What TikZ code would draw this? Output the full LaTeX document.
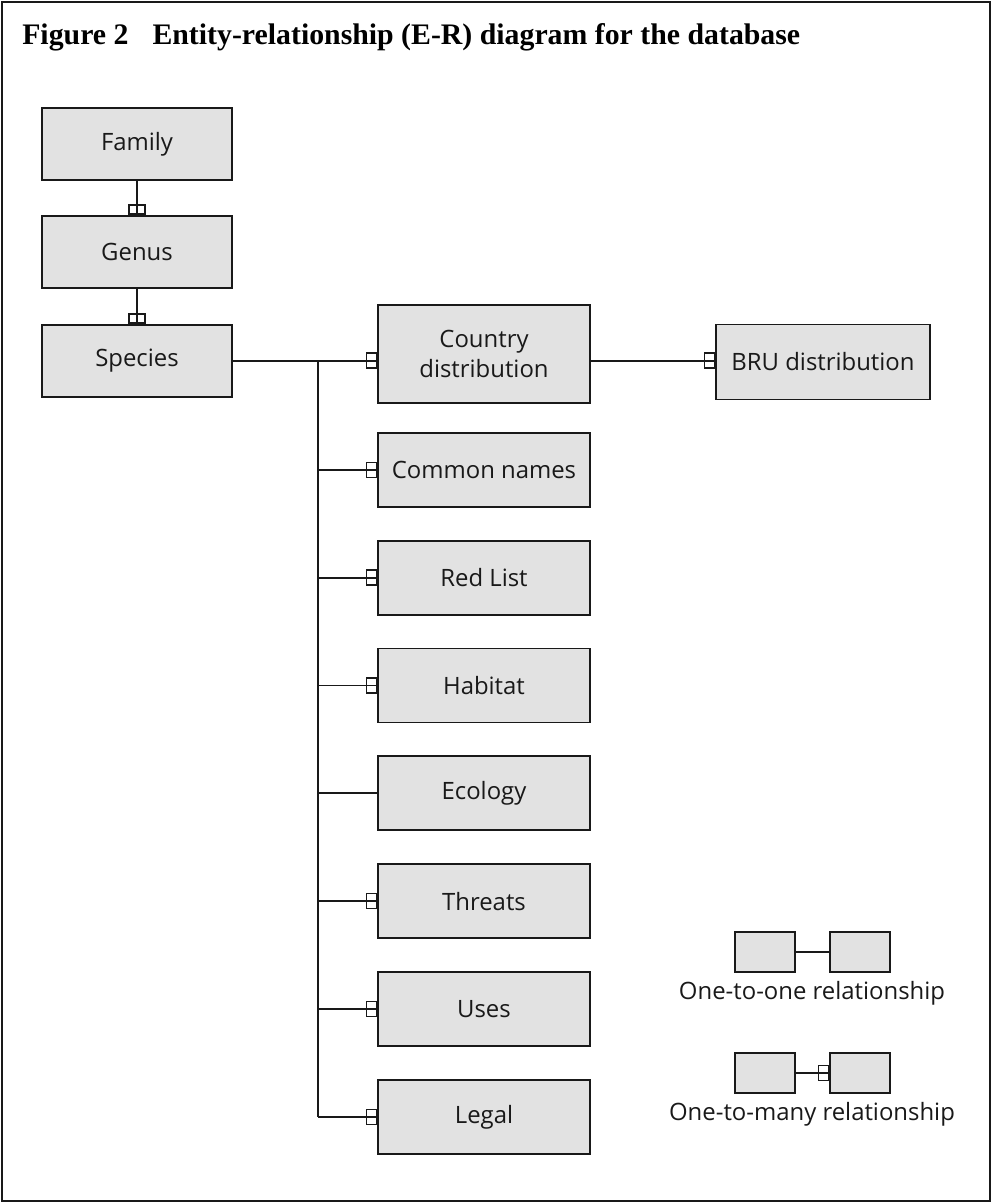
\documentclass[tikz,border=0pt]{standalone}
\usepackage{fontspec}
\setmainfont{Liberation Serif}
\setsansfont{Open Sans}
\usetikzlibrary{positioning}
\definecolor{cBox}{RGB}{226,226,226}
\definecolor{cEdge}{RGB}{25,25,25}
\tikzset{
  entity/.style={
    rectangle, draw=cEdge, line width=1.3pt, fill=cBox,
    align=center, text=cEdge, font=\sffamily\fontsize{17}{21}\selectfont,
    minimum width=47.5mm, minimum height=18mm, inner sep=1mm,
  },
  entityR/.style={entity, minimum width=53mm, minimum height=18.5mm},
  legbox/.style={entity, minimum width=15mm, minimum height=10mm},
  legtxt/.style={font=\sffamily\fontsize{17}{21}\selectfont, text=cEdge, inner sep=0pt},
  rel/.style={line width=1.3pt, draw=cEdge},
  manyH/.style={rectangle, draw=cEdge, line width=1.1pt, inner sep=0pt,
    minimum width=2.5mm, minimum height=3.75mm, anchor=east},
  manyV/.style={rectangle, draw=cEdge, line width=1.1pt, inner sep=0pt,
    minimum width=4mm, minimum height=2.25mm, anchor=south},
}

\begin{document}
\begin{tikzpicture}[x=0.25mm, y=-0.25mm]
\useasboundingbox (0,0) rectangle (992,1204);
\draw[line width=1pt, draw=cEdge] (2,2) rectangle (990,1201);

% ===== title =====
\node[anchor=base west, inner sep=0pt, font=\bfseries\fontsize{21.2}{24}\selectfont] (title)
  at (22,45) {Figure 2\hspace{6mm}Entity-relationship (E-R) diagram for the database};

% ===== taxonomy column =====
\node[entity] (family) at (137,144) {Family};
\node[entity, below=8.5mm of family] (genus) {Genus};
\node[entity, below=8.75mm of genus] (species) {Species};

% ===== species attributes =====
\node[entityR, minimum height=24.5mm] (country) at (484,354) {Country\\ distribution};
\node[entityR, minimum width=53.5mm, minimum height=18.75mm] (bru) at (823,362) {BRU distribution};
\node[entityR, below=7mm of country] (common) {Common names};
\node[entityR, below=8mm of common] (redlist) {Red List};
\node[entityR, below=8mm of redlist] (habitat) {Habitat};
\node[entityR, below=8mm of habitat] (ecology) {Ecology};
\node[entityR, below=8mm of ecology] (threats) {Threats};
\node[entityR, below=8mm of threats] (uses) {Uses};
\node[entityR, below=8mm of uses] (legal) {Legal};

% ===== connectors =====
\coordinate (trunk) at (318,0);
\draw[rel] (family.south) -- (genus.north);
\node[manyV] (m-genus) at (genus.north) {};
\draw[rel] (genus.south) -- (species.north);
\node[manyV] (m-species) at (species.north) {};

\draw[rel] (species.east) -- (species.east -| country.west);
\node[manyH] (m-country) at (species.east -| country.west) {};
\draw[rel] (species.east -| trunk) -- (legal.west -| trunk);
\draw[rel] (country.east |- species.east) -- (bru.west |- species.east);
\node[manyH] (m-bru) at (bru.west |- species.east) {};

\foreach \n in {common,redlist,habitat,threats,uses,legal}{
  \draw[rel] (\n.west -| trunk) -- (\n.west);
  \node[manyH] (m-\n) at (\n.west) {};
}
\draw[rel] (ecology.west -| trunk) -- (ecology.west);

% ===== legend =====
\node[legbox] (oneA) at (765,952) {};
\node[legbox] (oneB) at (860,952) {};
\draw[rel] (oneA) -- (oneB);
\node[legtxt] (oneTxt) at (812,993) {One-to-one relationship};

\node[legbox] (manyA) at (765,1073) {};
\node[legbox] (manyB) at (860,1073) {};
\draw[rel] (manyA) -- (manyB);
\node[manyH] (m-leg) at (manyB.west) {};
\node[legtxt] (manyTxt) at (812,1114) {One-to-many relationship};

\end{tikzpicture}
\end{document}
